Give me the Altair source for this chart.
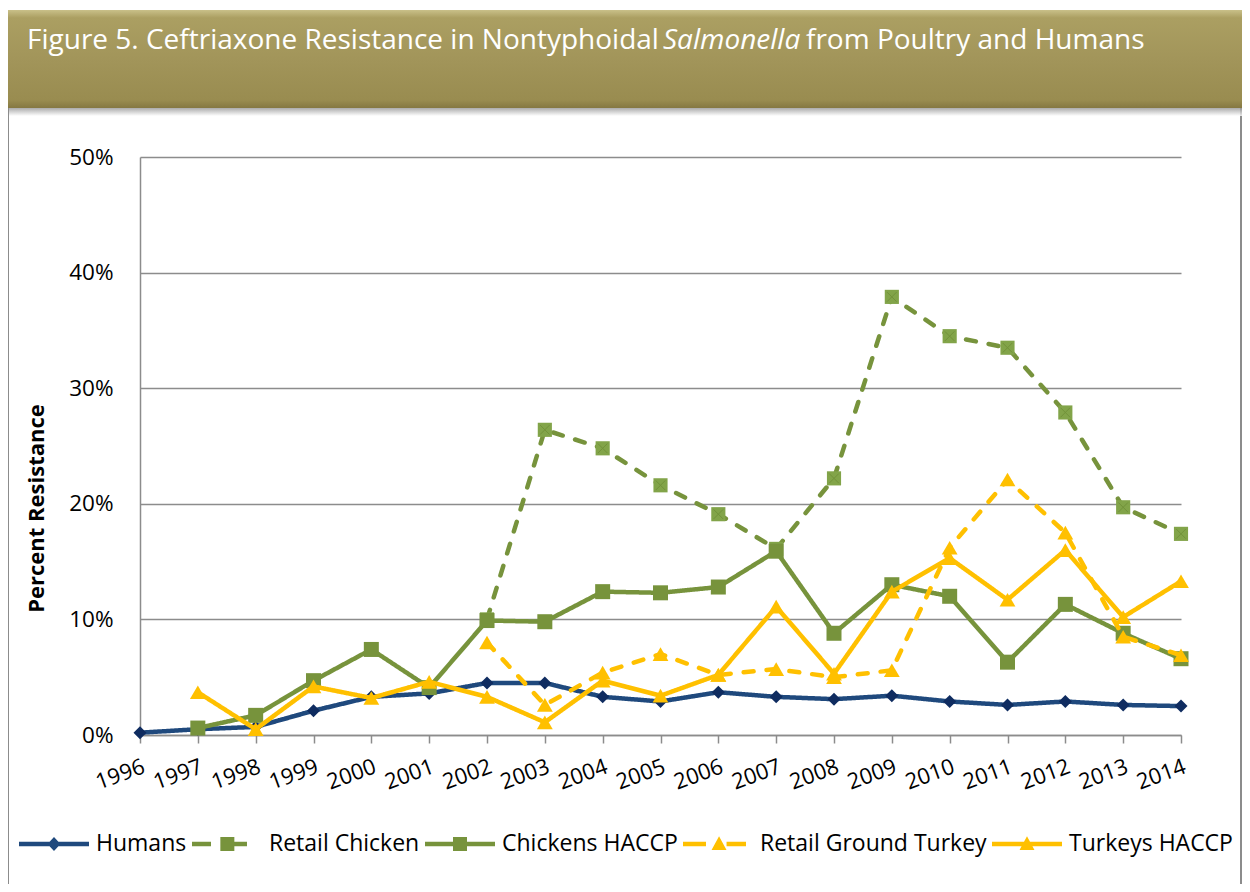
import altair as alt
import pandas as pd

# ---------------- data (percent) ----------------
years = list(range(1996, 2015))
series_names = ["Humans", "Retail Chicken", "Chickens HACCP",
                "Retail Ground Turkey", "Turkeys HACCP"]
humans = [0.2, 0.5, 0.7, 2.1, 3.3, 3.6, 4.5, 4.5, 3.3, 2.9, 3.7, 3.3, 3.1, 3.4,
          2.9, 2.6, 2.9, 2.6, 2.5]
retail_chicken = [None, None, None, None, None, None, 10.0, 26.4, 24.8, 21.6,
                  19.1, 16.1, 22.2, 37.9, 34.5, 33.5, 27.9, 19.7, 17.4]
chickens_haccp = [None, 0.6, 1.7, 4.7, 7.4, 4.1, 9.9, 9.8, 12.4, 12.3, 12.8,
                  15.9, 8.8, 13.0, 12.0, 6.3, 11.3, 8.8, 6.6]
retail_ground_turkey = [None, None, None, None, None, None, 8.0, 2.6, 5.4, 7.0,
                        5.2, 5.7, 5.0, 5.6, 16.2, 22.1, 17.5, 8.5, 6.9]
turkeys_haccp = [None, 3.7, 0.5, 4.2, 3.2, 4.6, 3.3, 1.1, 4.7, 3.4, 5.2, 11.1,
                 5.3, 12.4, 15.3, 11.7, 16.0, 10.2, 13.3]
y_ticks = [0, 0.1, 0.2, 0.3, 0.4, 0.5]
title_parts = ["Figure 5. Ceftriaxone Resistance in Nontyphoidal ",
               "Salmonella", "from Poultry and Humans"]

series_values = [humans, retail_chicken, chickens_haccp,
                 retail_ground_turkey, turkeys_haccp]
rows = []
for name, vals in zip(series_names, series_values):
    for yr, v in zip(years, vals):
        if v is not None:
            rows.append({"series": name, "year": str(yr), "value": v / 100.0})
df = pd.DataFrame(rows)

# ---------------- styles ----------------
FONT = "Open Sans"
line_colors = ["#1F497D", "#77933C", "#77933C", "#FFC000", "#FFC000"]
marker_colors = ["#0F2C60", "#82A449", "#77933C", "#FFC000", "#FFC000"]
dashes = [[1, 0], [10, 13], [1, 0], [10, 13], [1, 0]]
shapes = ["diamond", "square", "square", "triangle-up", "triangle-up"]
marker_sizes = [170, 200, 225, 250, 250]


# legend glyphs: line segment(s) + marker, in the unit box [-1, 1]
def hbar(x0, x1, t=0.066):
    return f"M{x0},{-t}H{x1}V{t}H{x0}Z"


def diamond(cx, hw=0.186, hh=0.2):
    return f"M{cx},{-hh}L{cx + hw},0L{cx},{hh}L{cx - hw},0Z"


def square(cx, h=0.2):
    return f"M{cx - h},{-h}H{cx + h}V{h}H{cx - h}Z"


def triangle(cx, hw=0.214, top=-0.22, bot=0.17):
    return f"M{cx},{top}L{cx + hw},{bot}H{cx - hw}Z"


legend_glyphs = [
    hbar(-1, 1) + diamond(0),
    hbar(-1, -0.457) + square(0.01) + hbar(0.21, 0.571),
    hbar(-1, 1) + square(0),
    hbar(-1, -0.343) + triangle(0.03) + hbar(0.244, 0.8),
    hbar(-1, 1) + triangle(0),
]

legend = alt.Legend(title=None, orient="none", legendX=-121, legendY=652,
                    direction="horizontal", columns=5,
                    symbolSize=4900, symbolStrokeWidth=0,
                    labelFont=FONT, labelFontSize=23, labelColor="#000000",
                    labelOffset=7, columnPadding=5, labelLimit=0)

x_enc = alt.X("year:O",
              scale=alt.Scale(type="point", padding=0,
                              domain=[str(y) for y in years]),
              axis=alt.Axis(title=None, labelAngle=-20, labelAlign="right",
                            labelBaseline="top", labelFontSize=22,
                            labelFont=FONT, labelColor="#000000",
                            labelPadding=13, tickSize=8, tickColor="#8C8C8C",
                            tickWidth=1.5, domainColor="#8C8C8C",
                            domainWidth=1.5, grid=False, labelOverlap=False))
y_enc = alt.Y("value:Q",
              scale=alt.Scale(domain=[0, 0.5], nice=False),
              axis=alt.Axis(values=y_ticks, format=".0%",
                            title="Percent Resistance", titleFont=FONT,
                            titleFontSize=22, titleFontWeight="bold",
                            titleColor="#000000", titleAngle=270,
                            titleX=-104, titleY=351, titleAlign="center",
                            titleBaseline="middle",
                            labelFontSize=22.5, labelFont=FONT,
                            labelColor="#000000", labelPadding=27,
                            ticks=False, grid=True, gridColor="#8C8C8C",
                            gridWidth=1.5, domainColor="#8C8C8C",
                            domainWidth=1.5))

stroke_enc = alt.Stroke("series:N",
                        scale=alt.Scale(domain=series_names, range=line_colors),
                        legend=None)
dash_enc = alt.StrokeDash("series:N",
                          scale=alt.Scale(domain=series_names, range=dashes),
                          legend=None)
fill_enc = alt.Fill("series:N",
                    scale=alt.Scale(domain=series_names, range=marker_colors),
                    legend=None)
shape_enc = alt.Shape("series:N",
                      scale=alt.Scale(domain=series_names, range=shapes),
                      legend=None)

base = alt.Chart(df)
layers = []

# decorative frame and banner
dummy = alt.Chart(pd.DataFrame({"k": [0]}))
frame = dummy.mark_rect(filled=False, stroke="#8C8C8C", strokeWidth=2).encode(
    x=alt.value(-132), x2=alt.value(1101), y=alt.value(-70), y2=alt.value(740))
shadow = dummy.mark_rect(
    fill=alt.Gradient(gradient="linear", x1=0, x2=0, y1=0, y2=1,
                      stops=[alt.GradientStop(color="#8A8A8A", offset=0),
                             alt.GradientStop(color="#FFFFFF", offset=1)]),
    opacity=0.8).encode(
    x=alt.value(-131), x2=alt.value(1102), y=alt.value(-50), y2=alt.value(-41))
banner = dummy.mark_rect(
    fill=alt.Gradient(gradient="linear", x1=0, x2=0, y1=0, y2=1,
                      stops=[alt.GradientStop(color="#C9C089", offset=0),
                             alt.GradientStop(color="#AB9F62", offset=0.08),
                             alt.GradientStop(color="#A2955A", offset=0.5),
                             alt.GradientStop(color="#998C50", offset=0.92),
                             alt.GradientStop(color="#857842", offset=1)])
).encode(x=alt.value(-133), x2=alt.value(1102), y=alt.value(-147),
         y2=alt.value(-49))
layers += [frame, shadow, banner]

title_x = [-113, 523, 666]
for i, (part, tx) in enumerate(zip(title_parts, title_x)):
    layers.append(alt.Chart(pd.DataFrame({"t": [part]})).mark_text(
        align="left", baseline="alphabetic", font=FONT, fontSize=28,
        color="white", fontStyle="italic" if i == 1 else "normal"
    ).encode(x=alt.value(tx), y=alt.value(-108), text="t:N"))

for i, name in enumerate(series_names):
    sub = base.transform_filter(alt.datum.series == name)
    layers.append(sub.mark_line(strokeWidth=4.5, strokeCap="round",
                                strokeJoin="round").encode(
        x=x_enc, y=y_enc, stroke=stroke_enc, strokeDash=dash_enc))
    layers.append(sub.mark_point(filled=True, size=marker_sizes[i], opacity=1,
                                 strokeWidth=0).encode(
        x=x_enc, y=y_enc, fill=fill_enc, shape=shape_enc))
    if name == "Retail Chicken":
        layers.append(sub.mark_point(shape="M-1,-1L1,1M-1,1L1,-1",
                                     filled=False, size=90, stroke="#6C8C35",
                                     strokeWidth=1, opacity=0.7).encode(
            x=x_enc, y=y_enc))

# legend layer: draws nothing in the plot, only provides the legend
legend_layer = alt.Chart(pd.DataFrame({"lg": series_names})).transform_filter(
    "false").mark_point(filled=True, opacity=1).encode(
    fill=alt.Fill("lg:N", scale=alt.Scale(domain=series_names,
                                          range=line_colors), legend=legend),
    shape=alt.Shape("lg:N", scale=alt.Scale(domain=series_names,
                                            range=legend_glyphs),
                    legend=legend))
layers.append(legend_layer)

chart = alt.layer(*layers).resolve_scale(
    shape="independent", fill="independent"
).properties(
    width=1041, height=578,
    autosize=alt.AutoSizeParams(type="none"),
    padding={"left": 132, "top": 149, "right": 61, "bottom": 149},
    background="white",
).configure_view(stroke=None)

chart.save("out.html", embed_options={"renderer": "svg", "actions": False})
